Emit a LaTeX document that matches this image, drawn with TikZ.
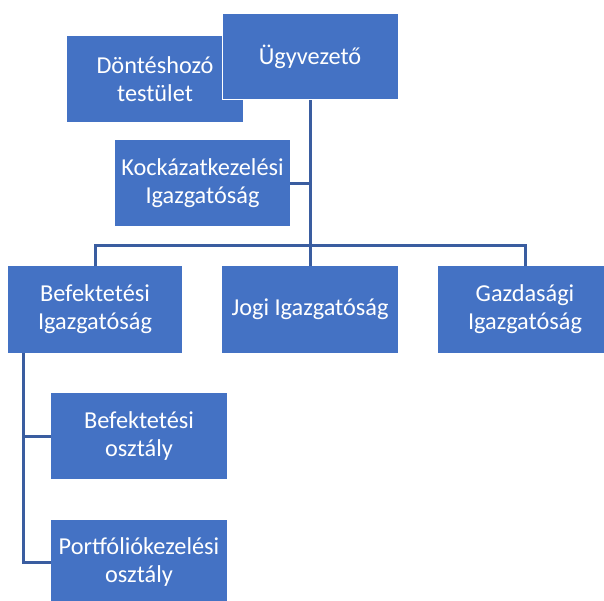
\documentclass[tikz,border=0pt]{standalone}
\usepackage{fontspec}
\setmainfont{Carlito}
\usetikzlibrary{positioning}
\definecolor{orgblue}{HTML}{4472C4}
\definecolor{orgline}{HTML}{3A5DA0}

\begin{document}
\begin{tikzpicture}[
    x=1pt, y=-1pt,
    unit/.style={fill=orgblue, text=white, align=center, minimum width=176pt,
      minimum height=86pt, inner sep=0pt, font=\fontsize{24.3}{28}\selectfont},
    link/.style={draw=orgline, line width=3pt},
  ]
  \clip (0,0) rectangle (604,601);
  \fill[white] (0,0) rectangle (604,601);

  % ----- top level -----
  \node[unit] (board) at (155,79.5) {Döntéshozó\\testület};
  \node[unit, draw=white, line width=1pt] (ceo) at (310,57) {Ügyvezető};
  \node[unit, minimum width=175pt] (risk) at (202.5,183.5) {Kockázatkezelési\\Igazgatóság};

  % ----- directorates -----
  \node[unit, minimum width=174pt] (invest) at (95,309.5) {Befektetési\\Igazgatóság};
  \node[unit] (legal) at (310,309.5) {Jogi Igazgatóság};
  \node[unit, minimum width=174pt] (finance) at (525,309.5) {Gazdasági\\Igazgatóság};

  % ----- departments -----
  \node[unit] (investdept) at (139,436) {Befektetési\\osztály};
  \node[unit] (portfolio) at (139,562.5) {Portfóliókezelési\\osztály};

  % ----- wiring -----
  \coordinate (hub) at (310,246);
  \coordinate (spine) at (23,0);
  \draw[link] (ceo) -- (legal);                          % trunk
  \draw[link] (risk.east) -- (risk.east -| ceo.south);   % staff unit
  \draw[link] (invest.north) |- (hub) -| (finance.north); % bar
  \draw[link] (invest.south -| spine) |- (portfolio.west);
  \draw[link] (investdept.west) -- (investdept.west -| spine);

\end{tikzpicture}
\end{document}
